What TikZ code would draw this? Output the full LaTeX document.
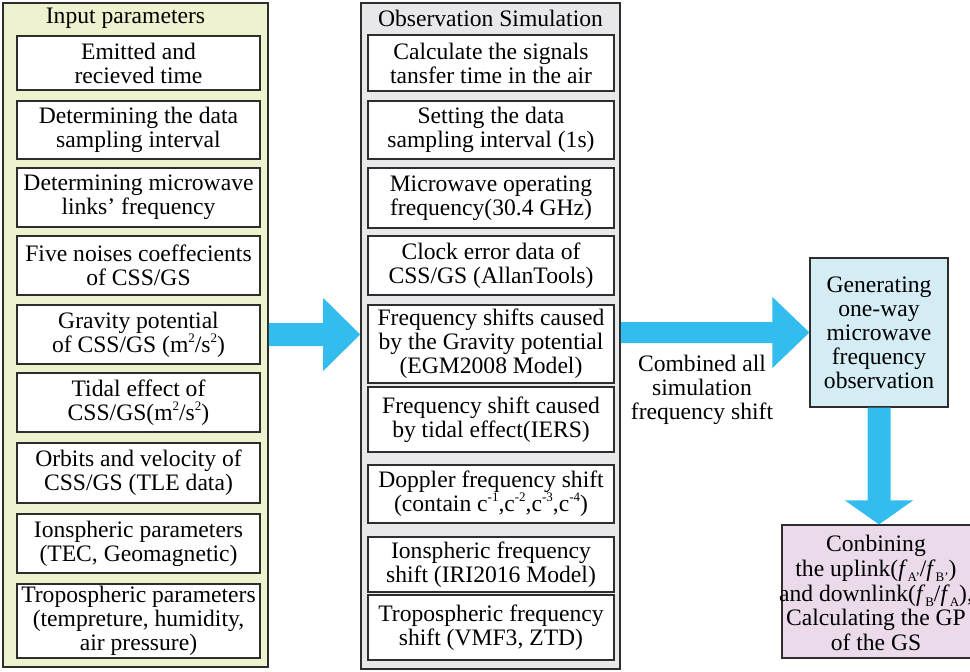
\documentclass[tikz,border=0pt]{standalone}
\usepackage{fontspec}
\setmainfont{LiberationSerif}[Extension=.ttf, UprightFont=*-Regular, BoldFont=*-Bold,
  ItalicFont=*-Italic, BoldItalicFont=*-BoldItalic]
\usetikzlibrary{calc}

\definecolor{inpfill}{RGB}{238,242,206}
\definecolor{obsfill}{RGB}{232,232,234}
\definecolor{genfill}{RGB}{212,236,244}
\definecolor{gpfill}{RGB}{234,218,234}
\definecolor{flow}{RGB}{51,189,239}
\definecolor{edge}{RGB}{45,45,45}

% small raised / lowered text
\newcommand\sups[1]{\raisebox{0.42em}{\fontsize{13pt}{13pt}\selectfont #1}}
\newcommand\subs[1]{\raisebox{-0.22em}{\fontsize{13pt}{13pt}\selectfont #1}}

% horizontal block arrow: start, tip, shaft half-height, head half-height, head length
\newcommand\hblockarrow[5]{%
  \fill[flow] ($(#1)+(0,-#3)$) -- ($(#2)+(-#5,-#3)$) -- ($(#2)+(-#5,-#4)$) -- (#2)
    -- ($(#2)+(-#5,#4)$) -- ($(#2)+(-#5,#3)$) -- ($(#1)+(0,#3)$) -- cycle;}
% vertical (downward) block arrow: start, tip, shaft half-width, head half-width, head length
\newcommand\vblockarrow[5]{%
  \fill[flow] ($(#1)+(-#3,0)$) -- ($(#2)+(-#3,-#5)$) -- ($(#2)+(-#4,-#5)$) -- (#2)
    -- ($(#2)+(#4,-#5)$) -- ($(#2)+(#3,-#5)$) -- ($(#1)+(#3,0)$) -- cycle;}

\begin{document}
\begin{tikzpicture}[x=1pt,y=-1pt,
  every node/.style={font=\fontsize{23.6pt}{24pt}\selectfont, inner sep=0pt, align=center},
  panel/.style={draw=edge, line width=1.6pt},
  item/.style={draw=edge, line width=1.1pt, fill=white},
  leftitem/.style={item, minimum width=243pt},
  miditem/.style={item, minimum width=246pt},
  result/.style={draw=edge, line width=1.1pt}]

\useasboundingbox (0,0) rectangle (970,672);
\clip (0,0) rectangle (970,672);

% two input/processing panels
\node[panel, fill=inpfill, minimum width=265pt, minimum height=664pt] (inp) at (135.5,335) {};
\node[panel, fill=obsfill, minimum width=259pt, minimum height=666pt] (obs) at (490.5,336) {};

\node (inptitle) at (125.5,18) {Input parameters};
\node (obstitle) at (490.5,18) {Observation Simulation};

% input parameters
\node[leftitem, minimum height=54pt] (i1) at (138.5,63) {Emitted and\\recieved time};
\node[leftitem, minimum height=58pt] (i2) at (138.5,130) {Determining the data\\sampling interval};
\node[leftitem, minimum height=59pt] (i3) at (138.5,197.5) {Determining microwave\\links’ frequency};
\node[leftitem, minimum height=59pt] (i4) at (138.5,265.5) {Five noises coeffecients\\of CSS/GS};
\node[leftitem, minimum height=59pt] (i5) at (138.5,334.5) {Gravity potential\\of CSS/GS (m\sups{2}/s\sups{2})};
\node[leftitem, minimum height=59pt] (i6) at (138.5,402.5) {Tidal effect of\\CSS/GS(m\sups{2}/s\sups{2})};
\node[leftitem, minimum height=60pt] (i7) at (138.5,473) {Orbits and velocity of\\CSS/GS (TLE data)};
\node[leftitem, minimum height=59pt] (i8) at (138.5,543.5) {Ionspheric parameters\\(TEC, Geomagnetic)};
\node[leftitem, minimum height=74pt] (i9) at (138.5,621) {Tropospheric parameters\\(tempreture, humidity,\\air pressure)};

% observation simulation steps
\node[miditem, minimum height=56pt] (m1) at (491,63) {Calculate the signals\\tansfer time in the air};
\node[miditem, minimum height=58pt] (m2) at (491,130) {Setting the data\\sampling interval (1s)};
\node[miditem, minimum height=60pt] (m3) at (491,198) {Microwave operating\\frequency(30.4 GHz)};
\node[miditem, minimum height=59pt] (m4) at (491,265.5) {Clock error data of\\CSS/GS (AllanTools)};
\node[miditem, minimum height=78pt] (m5) at (491,344) {Frequency shifts caused\\by the Gravity potential\\(EGM2008 Model)};
\node[miditem, minimum height=65pt] (m6) at (491,419.5) {Frequency shift caused\\by tidal effect(IERS)};
\node[miditem, minimum height=58pt] (m7) at (491,494) {Doppler frequency shift\\(contain c\sups{-1},c\sups{-2},c\sups{-3},c\sups{-4})};
\node[miditem, minimum height=55pt] (m8) at (491,564.5) {Ionspheric frequency\\shift (IRI2016 Model)};
\node[miditem, minimum height=65pt] (m9) at (491,627.5) {Tropospheric frequency\\shift (VMF3, ZTD)};

% results
\node[result, fill=genfill, minimum width=138pt, minimum height=149pt] (gen) at (879,332.5)
  {Generating\\one-way\\microwave\\frequency\\observation};
\node[result, fill=gpfill, minimum width=196pt, minimum height=133pt] (gp) at (880,591.5) {};
\node[font=\fontsize{23.6pt}{24.6pt}\selectfont] (gptext) at (876,593)
  {Conbining\\the uplink(\textit{f}\subs{A’}/\textit{f}\subs{B’})\\and downlink(\textit{f}\subs{B}/\textit{f}\subs{A}),\\Calculating the GP\\of the GS};

\node (comb) at (702,390) {Combined all\\simulation\\frequency shift};

% block arrows between the stages
\coordinate (row1) at (0,334.5);
\coordinate (row2) at (0,332.5);
\coordinate (a1s) at (inp.east |- row1);
\coordinate (a1e) at (obs.west |- row1);
\coordinate (a2s) at (obs.east |- row2);
\coordinate (a2e) at (gen.west |- row2);
\coordinate (a3s) at (gen.south);
\coordinate (a3e) at (gen.south |- gp.north);
\hblockarrow{a1s}{a1e}{11.5}{36.5}{37}
\hblockarrow{a2s}{a2e}{10.5}{35.5}{37}
\vblockarrow{a3s}{a3e}{11.5}{34}{24}
\end{tikzpicture}
\end{document}
